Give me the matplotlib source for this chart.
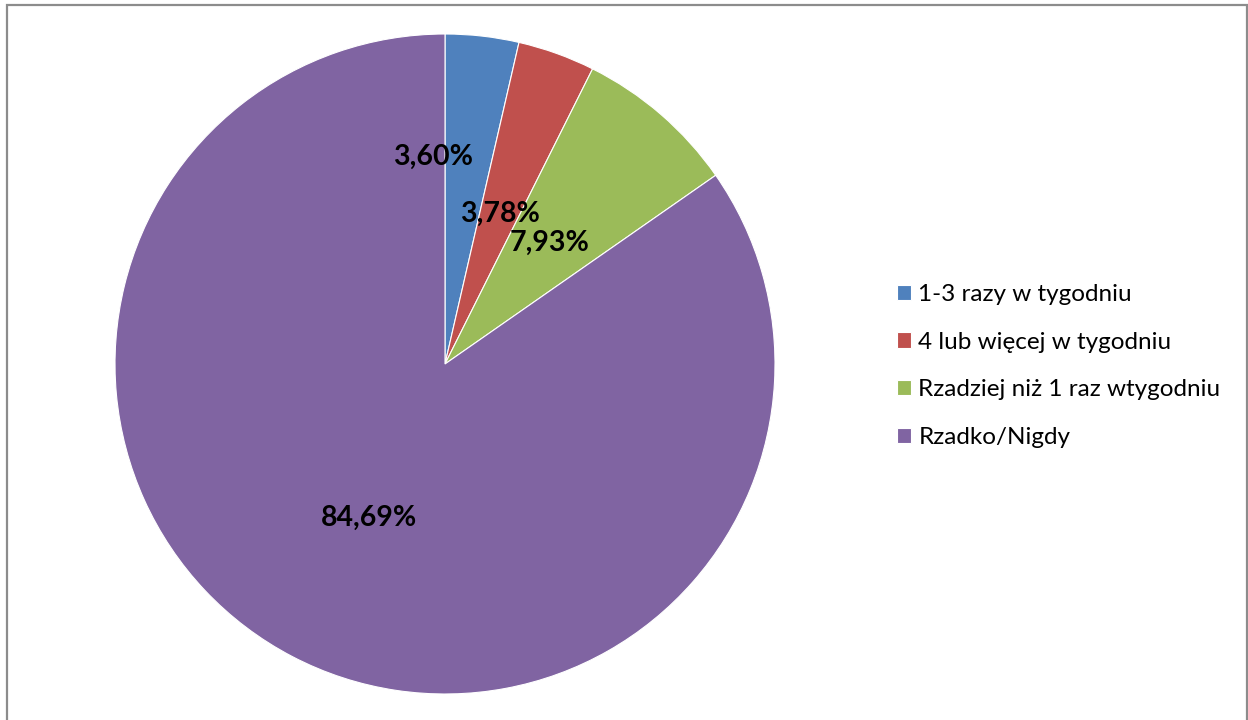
import matplotlib.pyplot as plt
from matplotlib.patches import Rectangle

labels = ['1-3 razy w tygodniu', '4 lub więcej w tygodniu',
          'Rzadziej niż 1 raz wtygodniu', 'Rzadko/Nigdy']
values = [3.60, 3.78, 7.93, 84.69]
colors = ['#4F81BD', '#C0504D', '#9BBB59', '#8064A2']
# label positions (in pie radius units)
label_pos = [(-0.036, 0.628), (0.167, 0.455), (0.318, 0.368), (-0.23, -0.465)]

plt.rcParams['font.family'] = ['Lato', 'DejaVu Sans']

W, H = 1248, 720
fig = plt.figure(figsize=(W / 100, H / 100), dpi=100)
cx, cy, r = 445, 364, 330
ax = fig.add_axes([(cx - r) / W, (H - cy - r) / H, 2 * r / W, 2 * r / H])

wedges, _ = ax.pie(values, colors=colors, startangle=90, counterclock=False,
                   radius=1, wedgeprops=dict(edgecolor='white', linewidth=0.8))
ax.set_xlim(-1, 1)
ax.set_ylim(-1, 1)
ax.set_aspect('equal')
ax.axis('off')

for v, (x, y) in zip(values, label_pos):
    ax.text(x, y, ('%.2f%%' % v).replace('.', ','), ha='center', va='center',
            fontsize=20.5, fontweight='bold', color='black')

fig.legend(wedges, labels, loc='center left', bbox_to_anchor=(897 / W, 1 - 366 / H),
           frameon=False, fontsize=17.5, handlelength=0.58, handleheight=0.58,
           handletextpad=0.3, labelspacing=1.1, borderpad=0, borderaxespad=0)

fig.add_artist(Rectangle((7 / W, -0.01), (1247 - 7) / W, 1.01 - 5 / H,
                         transform=fig.transFigure, fill=False,
                         edgecolor='#8C8C8C', linewidth=1.6))

fig.savefig('out.png', dpi=100)
